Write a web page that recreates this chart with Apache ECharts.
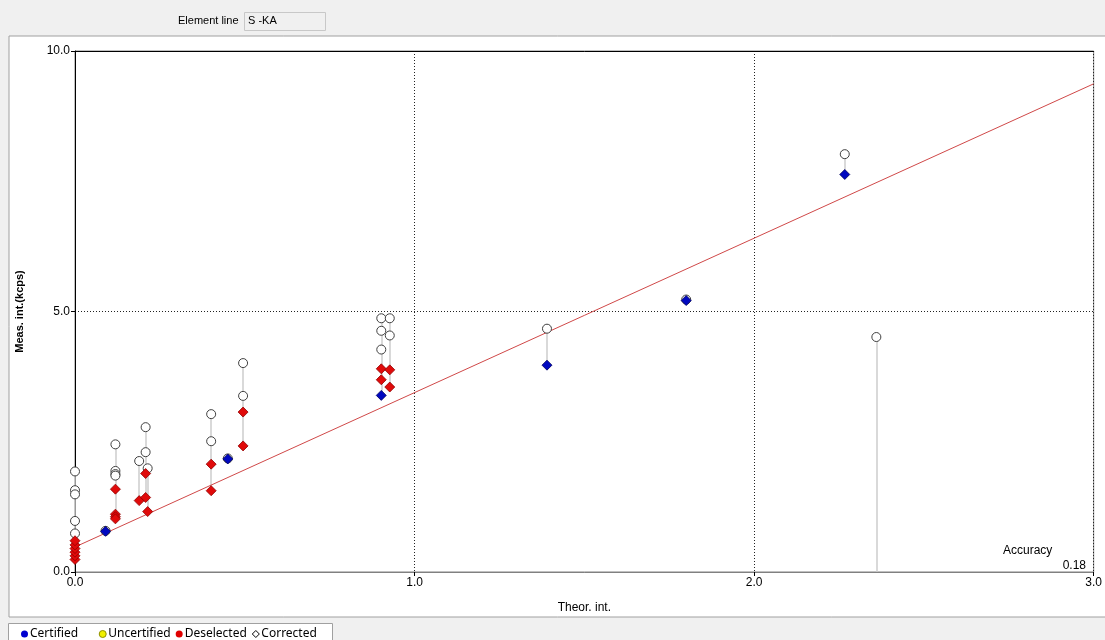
<!DOCTYPE html>
<html>
<head>
<meta charset="utf-8">
<script src="https://cdn.jsdelivr.net/npm/echarts@6/dist/echarts.min.js"></script>
<style>
  html, body { margin: 0; padding: 0; background: #f0f0f0; }
  #chart { width: 1105px; height: 640px; }
</style>
</head>
<body>
<div id="chart"></div>
<script>
  // 数据
  var xTicks = [0, 1, 2, 3];
  var yTicks = [0, 5, 10];
  var certified = [[0.09, 0.78], [0.45, 2.17], [0.902, 3.39], [1.39, 3.97], [1.80, 5.21], [2.267, 7.63]];
  var uncertified = [];
  var deselected = [
    [0, 0.24], [0, 0.31], [0, 0.38], [0, 0.45], [0, 0.52], [0, 0.60],
    [0.119, 1.59], [0.119, 1.11], [0.119, 1.06], [0.119, 1.02],
    [0.189, 1.37], [0.208, 1.89], [0.208, 1.43], [0.214, 1.16],
    [0.401, 2.07], [0.401, 1.56], [0.495, 3.07], [0.495, 2.42],
    [0.902, 3.90], [0.902, 3.69], [0.927, 3.88], [0.927, 3.55]
  ];
  var corrected = [
    [0, 1.93], [0, 1.57], [0, 1.49], [0, 0.98], [0, 0.74],
    [0.09, 0.79], [0.119, 2.45], [0.119, 1.94], [0.119, 1.88], [0.119, 1.85],
    [0.189, 2.13], [0.208, 2.78], [0.208, 2.30], [0.214, 1.99],
    [0.401, 3.03], [0.401, 2.51], [0.45, 2.18], [0.495, 4.01], [0.495, 3.38],
    [0.902, 4.87], [0.902, 4.63], [0.902, 4.27], [0.927, 4.87], [0.927, 4.54],
    [1.39, 4.67], [1.80, 5.23], [2.267, 8.02], [2.36, 4.51]
  ];
  // 没有测量点的校正值, 连线到 0
  var dropToZero = [[2.36, 4.51]];
  var fitLine = [[0, 0.48], [3, 9.37]];
  var accuracy = '0.18';
  var elementLine = 'S -KA';

  // 每列的竖线 (从最低到最高)
  var cols = {};
  certified.concat(deselected, corrected, dropToZero.map(function (p) { return [p[0], 0]; })).forEach(function (p) {
    var k = p[0];
    if (!cols[k]) cols[k] = [p[1], p[1]];
    cols[k][0] = Math.min(cols[k][0], p[1]);
    cols[k][1] = Math.max(cols[k][1], p[1]);
  });
  var segs = [];
  Object.keys(cols).forEach(function (k) {
    if (cols[k][1] > cols[k][0]) segs.push({ coords: [[+k, cols[k][0]], [+k, cols[k][1]]] });
  });

  var FONT = 'Liberation Sans';
  var chart = echarts.init(document.getElementById('chart'));
  var option = {
    backgroundColor: '#f0f0f0',
    animation: false,
    textStyle: { fontFamily: FONT },
    graphic: [
      { type: 'rect', z: -10, shape: { x: 9, y: 36, width: 1100, height: 581 }, style: { fill: '#fff', stroke: '#a0a0a0', lineWidth: 1 } },
      { type: 'text', left: 178, top: 15, style: { text: 'Element line', font: '11px ' + FONT, fill: '#000' } },
      { type: 'rect', shape: { x: 244.5, y: 12.5, width: 81, height: 18 }, style: { fill: '#f0f0f0', stroke: '#c8c8c8', lineWidth: 1 } },
      { type: 'text', left: 248, top: 15, style: { text: elementLine, font: '11px ' + FONT, fill: '#000' } },
      { type: 'rect', z: -5, shape: { x: 8.5, y: 623.5, width: 324, height: 20 }, style: { fill: '#fff', stroke: '#a0a0a0', lineWidth: 1 } },
      { type: 'text', left: 1003, top: 545, style: { text: 'Accuracy', font: '12px ' + FONT, fill: '#000' } },
      { type: 'text', right: 19, top: 560, style: { text: accuracy, font: '12px ' + FONT, fill: '#000', align: 'right' } }
    ],
    legend: {
      left: 16, top: 623, itemGap: 5, itemWidth: 7, itemHeight: 7,
      textStyle: { fontFamily: 'Noto Sans', fontSize: 12, color: '#000', padding: [0, 0, 0, -3] },
      formatter: function (name) { return name === 'Certified' ? name + '     ' : name; },
      data: [
        { name: 'Certified', icon: 'circle', itemStyle: { color: '#0000d0', borderWidth: 0, opacity: 1 } },
        { name: 'Uncertified', icon: 'circle', itemStyle: { color: '#f0f000', borderColor: '#909000', borderWidth: 1, opacity: 1 } },
        { name: 'Deselected', icon: 'circle', itemStyle: { color: '#e00000', borderWidth: 0, opacity: 1 } },
        { name: 'Corrected', icon: 'diamond', itemStyle: { color: '#fff', borderColor: '#000', borderWidth: 1, opacity: 1 } }
      ]
    },
    grid: { left: 75, right: 11, top: 51, bottom: 68, show: true, borderColor: '#808080', borderWidth: 1, backgroundColor: 'transparent' },
    xAxis: [{
      type: 'value', min: 0, max: 3, interval: 1,
      name: 'Theor. int.', nameLocation: 'middle', nameGap: 30,
      nameTextStyle: { fontSize: 12, color: '#000' },
      axisLine: { lineStyle: { color: '#808080' } },
      axisTick: { length: 4, lineStyle: { color: '#000' } },
      axisLabel: { color: '#000', fontSize: 12, margin: 5, formatter: function (v) { return v.toFixed(1); } },
      splitLine: { show: true, lineStyle: { color: '#222', type: [1, 2], width: 1 } }
    }, {
      type: 'value', min: 0, max: 3, position: 'top',
      axisLine: { show: true, onZero: false, lineStyle: { color: '#000' } },
      axisTick: { show: false }, axisLabel: { show: false }, splitLine: { show: false }
    }],
    yAxis: {
      type: 'value', min: 0, max: 10, interval: 5,
      name: 'Meas. int.(kcps)', nameLocation: 'middle', nameGap: 50,
      nameTextStyle: { fontSize: 11, color: '#000', fontWeight: 'bold' },
      axisLine: { show: true, lineStyle: { color: '#000' } },
      axisTick: { show: true, length: 4, lineStyle: { color: '#000' } },
      axisLabel: { color: '#000', fontSize: 12, margin: 5, formatter: function (v) { return v.toFixed(1); } },
      splitLine: { show: true, lineStyle: { color: '#222', type: [1, 2], width: 1 } }
    },
    series: [
      {
        type: 'lines', coordinateSystem: 'cartesian2d', silent: true, z: 1,
        lineStyle: { color: '#cccccc', width: 1.5, opacity: 1 },
        data: segs
      },
      {
        type: 'line', data: fitLine, symbol: 'none', z: 2, silent: true,
        lineStyle: { color: '#d04848', width: 1 }
      },
      {
        name: 'Corrected', type: 'scatter', data: corrected, symbol: 'circle', symbolSize: 9, z: 3,
        itemStyle: { color: '#fff', borderColor: '#404040', borderWidth: 1, opacity: 1 }
      },
      {
        name: 'Uncertified', type: 'scatter', data: uncertified, symbol: 'circle', symbolSize: 8, z: 4,
        itemStyle: { color: '#f0f000', borderColor: '#909000', borderWidth: 1, opacity: 1 }
      },
      {
        name: 'Deselected', type: 'scatter', data: deselected, symbol: 'diamond', symbolSize: 10, z: 4,
        itemStyle: { color: '#e00a0a', borderColor: '#900000', borderWidth: 0.8, opacity: 1 }
      },
      {
        name: 'Certified', type: 'scatter', data: certified, symbol: 'diamond', symbolSize: 10, z: 5,
        itemStyle: { color: '#0008c0', borderColor: '#000060', borderWidth: 0.8, opacity: 1 }
      }
    ]
  };
  chart.setOption(option);
</script>
</body>
</html>
